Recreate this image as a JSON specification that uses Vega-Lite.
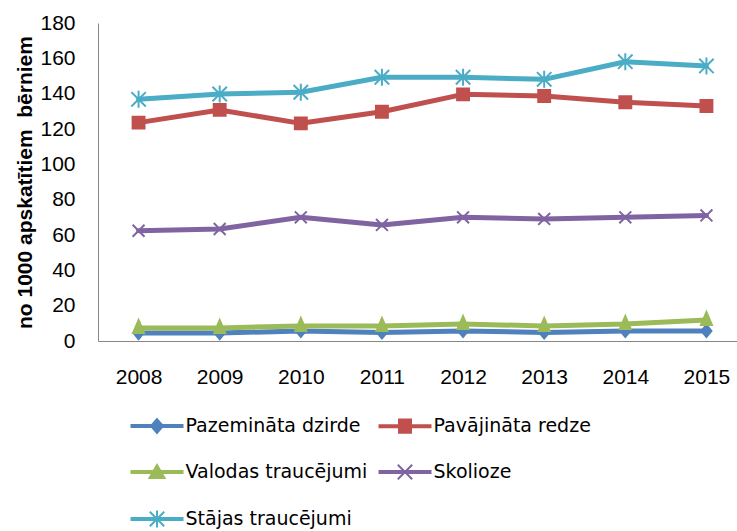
{
  "$schema": "https://vega.github.io/schema/vega-lite/v6.json",
  "width": 639,
  "height": 318,
  "autosize": {"type": "none"},
  "padding": {"left": 98, "top": 23, "right": 0, "bottom": 190},
  "background": "white",
  "config": {"view": {"stroke": null}, "font": "Liberation Sans"},
  "data": {
    "values": [
      {"year": "2008", "series": "Pazemināta dzirde", "value": 4.5},
      {"year": "2009", "series": "Pazemināta dzirde", "value": 4.5},
      {"year": "2010", "series": "Pazemināta dzirde", "value": 5.7},
      {"year": "2011", "series": "Pazemināta dzirde", "value": 4.8},
      {"year": "2012", "series": "Pazemināta dzirde", "value": 5.7},
      {"year": "2013", "series": "Pazemināta dzirde", "value": 4.8},
      {"year": "2014", "series": "Pazemināta dzirde", "value": 5.7},
      {"year": "2015", "series": "Pazemināta dzirde", "value": 5.7},
      {"year": "2008", "series": "Pavājināta redze", "value": 123.6},
      {"year": "2009", "series": "Pavājināta redze", "value": 130.8},
      {"year": "2010", "series": "Pavājināta redze", "value": 123.2},
      {"year": "2011", "series": "Pavājināta redze", "value": 129.8},
      {"year": "2012", "series": "Pavājināta redze", "value": 139.6},
      {"year": "2013", "series": "Pavājināta redze", "value": 138.7},
      {"year": "2014", "series": "Pavājināta redze", "value": 135.1},
      {"year": "2015", "series": "Pavājināta redze", "value": 133.0},
      {"year": "2008", "series": "Valodas traucējumi", "value": 7.4},
      {"year": "2009", "series": "Valodas traucējumi", "value": 7.4},
      {"year": "2010", "series": "Valodas traucējumi", "value": 8.5},
      {"year": "2011", "series": "Valodas traucējumi", "value": 8.5},
      {"year": "2012", "series": "Valodas traucējumi", "value": 9.6},
      {"year": "2013", "series": "Valodas traucējumi", "value": 8.5},
      {"year": "2014", "series": "Valodas traucējumi", "value": 9.6},
      {"year": "2015", "series": "Valodas traucējumi", "value": 11.9},
      {"year": "2008", "series": "Skolioze", "value": 62.4},
      {"year": "2009", "series": "Skolioze", "value": 63.4},
      {"year": "2010", "series": "Skolioze", "value": 70.0},
      {"year": "2011", "series": "Skolioze", "value": 65.7},
      {"year": "2012", "series": "Skolioze", "value": 70.0},
      {"year": "2013", "series": "Skolioze", "value": 69.1},
      {"year": "2014", "series": "Skolioze", "value": 70.0},
      {"year": "2015", "series": "Skolioze", "value": 71.1},
      {"year": "2008", "series": "Stājas traucējumi", "value": 136.8},
      {"year": "2009", "series": "Stājas traucējumi", "value": 139.8},
      {"year": "2010", "series": "Stājas traucējumi", "value": 140.8},
      {"year": "2011", "series": "Stājas traucējumi", "value": 149.3},
      {"year": "2012", "series": "Stājas traucējumi", "value": 149.3},
      {"year": "2013", "series": "Stājas traucējumi", "value": 148.1},
      {"year": "2014", "series": "Stājas traucējumi", "value": 158.1},
      {"year": "2015", "series": "Stājas traucējumi", "value": 155.7}
    ]
  },
  "encoding": {
    "x": {
      "field": "year",
      "type": "ordinal",
      "scale": {"type": "point", "range": [0, 649], "padding": 0.5},
      "axis": {
        "title": null,
        "labelAngle": 0,
        "ticks": false,
        "grid": false,
        "domainColor": "#868686",
        "labelFont": "Liberation Sans",
        "labelFontSize": 21,
        "labelColor": "#000000",
        "labelPadding": 25
      }
    },
    "y": {
      "field": "value",
      "type": "quantitative",
      "scale": {"domain": [0, 180], "nice": false},
      "axis": {
        "values": [0, 20, 40, 60, 80, 100, 120, 140, 160, 180],
        "ticks": false,
        "grid": false,
        "domainColor": "#868686",
        "labelFont": "Liberation Sans",
        "labelFontSize": 21,
        "labelColor": "#000000",
        "labelPadding": 23,
        "title": "no 1000 apskatītiem \u00a0bērniem",
        "titleFont": "Liberation Sans",
        "titleFontSize": 21,
        "titleFontWeight": "bold",
        "titleColor": "#000000",
        "titleAngle": 270,
        "titleAlign": "center",
        "titleBaseline": "alphabetic",
        "titleX": -67,
        "titleY": 159
      }
    }
  },
  "layer": [
    {
      "mark": {"type": "line", "strokeWidth": 5, "strokeJoin": "round", "strokeCap": "round"},
      "encoding": {
        "color": {
          "field": "series",
          "type": "nominal",
          "scale": {
            "domain": ["Pazemināta dzirde", "Pavājināta redze", "Valodas traucējumi", "Skolioze", "Stājas traucējumi"],
            "range": ["#4F81BD", "#C0504D", "#9BBB59", "#8064A2", "#4BACC6"]
          },
          "legend": null
        }
      }
    },
    {
      "mark": {"type": "point", "filled": true, "size": 289, "strokeWidth": 2, "opacity": 1},
      "encoding": {
        "fill": {
          "field": "series",
          "type": "nominal",
          "scale": {
            "domain": ["Pazemināta dzirde", "Pavājināta redze", "Valodas traucējumi", "Skolioze", "Stājas traucējumi"],
            "range": ["#4F81BD", "#C0504D", "#9BBB59", "#8064A2", "#4BACC6"]
          },
          "legend": null
        },
        "stroke": {
          "field": "series",
          "type": "nominal",
          "scale": {
            "domain": ["Pazemināta dzirde", "Pavājināta redze", "Valodas traucējumi", "Skolioze", "Stājas traucējumi"],
            "range": ["#4F81BD", "#C0504D", "#9BBB59", "#8064A2", "#4BACC6"]
          },
          "legend": null
        },
        "shape": {
          "field": "series",
          "type": "nominal",
          "scale": {
            "domain": ["Pazemināta dzirde", "Pavājināta redze", "Valodas traucējumi", "Skolioze", "Stājas traucējumi"],
            "range": [
              "M0,-0.71L0.59,0L0,0.71L-0.59,0Z",
              "M-0.7,-0.7H0.7V0.7H-0.7Z",
              "M0,-0.94L0.65,0.59H-0.65Z",
              "M-0.7,-0.7L0.7,0.7M-0.7,0.7L0.7,-0.7",
              "M-0.85,-0.85L0.85,0.85M-0.85,0.85L0.85,-0.85M0,-1V1"
            ]
          },
          "legend": null
        }
      }
    },
    {
      "transform": [{"filter": {"field": "year", "equal": "none"}}],
      "mark": {"type": "point", "filled": true, "strokeWidth": 2, "opacity": 1},
      "encoding": {
        "fill": {
          "field": "series",
          "type": "nominal",
          "scale": {
            "domain": ["Pazemināta dzirde", "Pavājināta redze", "Valodas traucējumi", "Skolioze", "Stājas traucējumi"],
            "range": ["#4F81BD", "#C0504D", "#9BBB59", "#8064A2", "#4BACC6"]
          },
          "legend": {"orient": "none", "direction": "horizontal", "legendX": 46, "legendY": 390, "columns": 2, "title": null, "symbolSize": 576, "symbolStrokeWidth": 2, "symbolOpacity": 1, "labelOffset": 15.5, "labelFont": "DejaVu Sans", "labelFontSize": 19, "labelColor": "#000000", "labelLimit": 300, "rowPadding": 22, "columnPadding": 7}
        },
        "stroke": {
          "field": "series",
          "type": "nominal",
          "scale": {
            "domain": ["Pazemināta dzirde", "Pavājināta redze", "Valodas traucējumi", "Skolioze", "Stājas traucējumi"],
            "range": ["#4F81BD", "#C0504D", "#9BBB59", "#8064A2", "#4BACC6"]
          },
          "legend": {"orient": "none", "direction": "horizontal", "legendX": 46, "legendY": 390, "columns": 2, "title": null, "symbolSize": 576, "symbolStrokeWidth": 2, "symbolOpacity": 1, "labelOffset": 15.5, "labelFont": "DejaVu Sans", "labelFontSize": 19, "labelColor": "#000000", "labelLimit": 300, "rowPadding": 22, "columnPadding": 7}
        },
        "shape": {
          "field": "series",
          "type": "nominal",
          "scale": {
            "domain": ["Pazemināta dzirde", "Pavājināta redze", "Valodas traucējumi", "Skolioze", "Stājas traucējumi"],
            "range": [
              "M-2.125,-0.083H2.125V0.083H-2.125Z M0,-0.58L0.5,0L0,0.58L-0.5,0Z",
              "M-2.125,-0.083H2.125V0.083H-2.125Z M-0.5,-0.55H0.5V0.55H-0.5Z",
              "M-2.125,-0.083H2.125V0.083H-2.125Z M0,-0.58L0.625,0.5H-0.625Z",
              "M-2.125,-0.083H2.125V0.083H-2.125Z M-0.6,-0.6L0.6,0.6M-0.6,0.6L0.6,-0.6",
              "M-2.125,-0.083H2.125V0.083H-2.125Z M-0.6,-0.6L0.6,0.6M-0.6,0.6L0.6,-0.6M0,-0.7V0.7"
            ]
          },
          "legend": {"orient": "none", "direction": "horizontal", "legendX": 46, "legendY": 390, "columns": 2, "title": null, "symbolSize": 576, "symbolStrokeWidth": 2, "symbolOpacity": 1, "labelOffset": 15.5, "labelFont": "DejaVu Sans", "labelFontSize": 19, "labelColor": "#000000", "labelLimit": 300, "rowPadding": 22, "columnPadding": 7}
        }
      }
    }
  ],
  "resolve": {"scale": {"fill": "independent", "stroke": "independent", "shape": "independent"}}
}
